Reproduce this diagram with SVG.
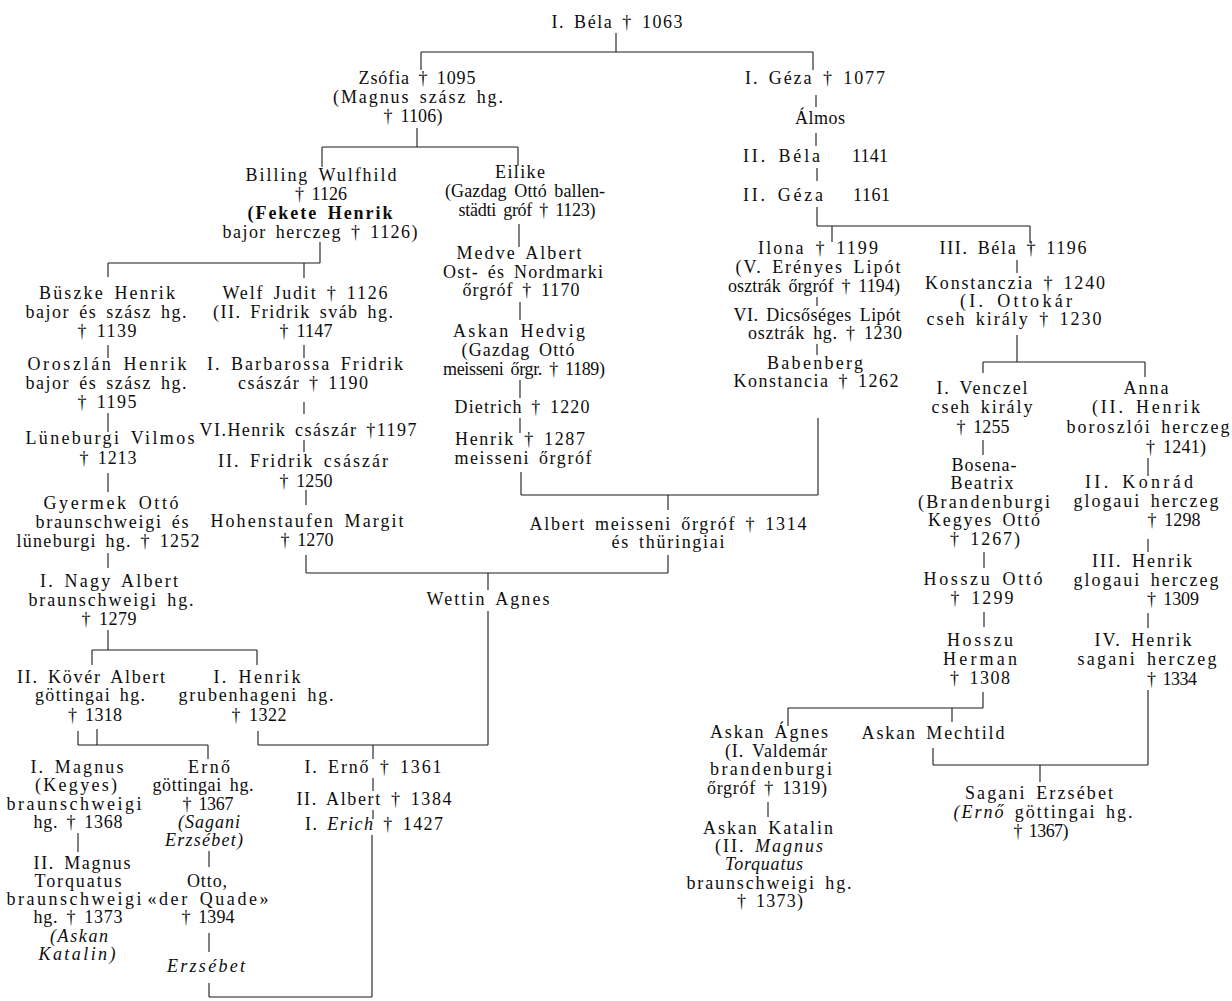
<svg xmlns="http://www.w3.org/2000/svg" width="1232" height="1001" viewBox="0 0 1232 1001">
  <style>
    text { font-family: "Liberation Serif", "Times New Roman", serif; font-size: 18px; fill: #0d0d0d; text-anchor: middle; word-spacing: 3px; }
    .b { font-weight: bold; }
    .i { font-style: italic; }
    .st { text-anchor: start; }
    #connectors path { fill: none; stroke: #1a1a1a; stroke-width: 1.1; }
  </style>
  <rect width="1232" height="1001" fill="#fff"/>

  <!-- descent lines -->
  <g id="connectors">
    <path d="M616 33V52M421 52H813M421 52V70M813 52V70"/>
    <path d="M417 128V147M322 147H518M322 147V167M518 147V166"/>
    <path d="M519 224V247M520 302V320M520 380V398M520 418V433M521 472V495M521 495H818M818 418V495"/>
    <path d="M668 495V510M668 555V573M306 573H668M306 555V573M488 573V590M488 611V745"/>
    <path d="M258 745H488M258 731V745M373 745V759"/>
    <path d="M78 731V745M97 729V745M78 745H208M208 745V759"/>
    <path d="M373 778V791M373 810V819M372 835V997M209 997H372M209 983V997M209 933V952M209 851V867M78 833V852"/>
    <path d="M320 242V263M108 263H320M108 263V277M304 263V278"/>
    <path d="M108 345V358M108 413V432M108 473V492M108 553V568M108 630V650M92 650H257M92 650V665M257 650V665"/>
    <path d="M304 345V358M304 402V414M304 440V452M306 490V505"/>
    <path d="M816 95V107M816 133V146M817 168V181M817 207V226M817 226H1030M832 226V242M1030 226V243"/>
    <path d="M817 297V306M817 344V355"/>
    <path d="M1017 260V273M1017 335V362M983 362H1145M983 362V373M1145 362V377"/>
    <path d="M983 440V455M984 552V568M984 612V627M983 692V708M788 708H983M788 708V726M952 708V722"/>
    <path d="M1148 458V476M1148 539V552M1148 613V628M1148 690V765M933 765H1148M933 748V765M1040 765V782"/>
    <path d="M768 802V817"/>
  </g>

  <!-- Árpád line -->
  <g id="n-bela1"><text x="617" y="28" textLength="131">I. Béla † 1063</text></g>

  <g id="n-zsofia">
    <text x="417" y="84" textLength="117">Zsófia † 1095</text>
    <text x="418" y="103" textLength="170">(Magnus szász hg.</text>
    <text x="413" y="122" textLength="59">† 1106)</text>
  </g>

  <g id="n-billing">
    <text x="321" y="181" textLength="151">Billing Wulfhild</text>
    <text x="321" y="200" textLength="52">† 1126</text>
    <text x="320" y="219" textLength="145" class="b">(Fekete Henrik</text>
    <text x="320" y="238" textLength="195">bajor herczeg † 1126)</text>
  </g>

  <g id="n-eilike">
    <text x="520" y="178" textLength="50">Eilike</text>
    <text x="525" y="197" textLength="160">(Gazdag Ottó ballen-</text>
    <text x="527" y="216" textLength="137">städti gróf † 1123)</text>
  </g>

  <g id="n-medve">
    <text x="519" y="259" textLength="125">Medve Albert</text>
    <text x="523" y="278" textLength="160">Ost- és Nordmarki</text>
    <text x="521" y="296" textLength="117">őrgróf † 1170</text>
  </g>

  <g id="n-hedvig">
    <text x="519" y="337" textLength="132">Askan Hedvig</text>
    <text x="518" y="356" textLength="113">(Gazdag Ottó</text>
    <text x="524" y="375" textLength="162">meisseni őrgr. † 1189)</text>
  </g>

  <g id="n-dietrich"><text x="522" y="413" textLength="135">Dietrich † 1220</text></g>

  <g id="n-henrik-meissen">
    <text x="520" y="445" textLength="130">Henrik † 1287</text>
    <text x="523" y="464" textLength="137">meisseni őrgróf</text>
  </g>

  <g id="n-albert-meissen">
    <text x="668" y="530" textLength="277">Albert meisseni őrgróf † 1314</text>
    <text x="668" y="548" textLength="113">és thüringiai</text>
  </g>

  <g id="n-wettin-agnes"><text x="488" y="605" textLength="123">Wettin Agnes</text></g>

  <!-- Welf / Braunschweig line -->
  <g id="n-buszke">
    <text x="107" y="299" textLength="136">Büszke Henrik</text>
    <text x="106" y="318" textLength="161">bajor és szász hg.</text>
    <text x="107" y="337" textLength="59">† 1139</text>
  </g>
  <g id="n-oroszlan">
    <text x="107" y="370" textLength="159">Oroszlán Henrik</text>
    <text x="106" y="389" textLength="161">bajor és szász hg.</text>
    <text x="107" y="408" textLength="59">† 1195</text>
  </g>
  <g id="n-luneburg-vilmos">
    <text x="110" y="444" textLength="169">Lüneburgi Vilmos</text>
    <text x="108" y="464" textLength="57">† 1213</text>
  </g>
  <g id="n-gyermek-otto">
    <text x="111" y="509" textLength="135">Gyermek Ottó</text>
    <text x="112" y="528" textLength="153">braunschweigi és</text>
    <text x="108" y="547" textLength="183">lüneburgi hg. † 1252</text>
  </g>
  <g id="n-nagy-albert">
    <text x="109" y="587" textLength="138">I. Nagy Albert</text>
    <text x="111" y="606" textLength="165">braunschweigi hg.</text>
    <text x="109" y="625" textLength="55">† 1279</text>
  </g>
  <g id="n-kover-albert">
    <text x="91" y="683" textLength="148">II. Kövér Albert</text>
    <text x="90" y="701" textLength="110">göttingai hg.</text>
    <text x="95" y="721" textLength="54">† 1318</text>
  </g>
  <g id="n-henrik-grubenhagen">
    <text x="257" y="683" textLength="87">I. Henrik</text>
    <text x="256" y="701" textLength="155">grubenhageni hg.</text>
    <text x="259" y="721" textLength="55">† 1322</text>
  </g>
  <g id="n-magnus1">
    <text x="77" y="773" textLength="93">I. Magnus</text>
    <text x="76" y="791" textLength="82">(Kegyes)</text>
    <text x="74" y="810" textLength="135">braunschweigi</text>
    <text x="78" y="828" textLength="89">hg. † 1368</text>
  </g>
  <g id="n-magnus2">
    <text x="82" y="869" textLength="97">II. Magnus</text>
    <text x="78" y="887" textLength="87">Torquatus</text>
    <text x="74" y="905" textLength="135">braunschweigi</text>
    <text x="78" y="923" textLength="89">hg. † 1373</text>
    <text x="79" y="942" textLength="58" class="i">(Askan</text>
    <text x="77" y="960" textLength="77" class="i">Katalin)</text>
  </g>
  <g id="n-erno-gott">
    <text x="209" y="773" textLength="42">Ernő</text>
    <text x="203" y="791" textLength="101">göttingai hg.</text>
    <text x="208" y="810" textLength="51">† 1367</text>
    <text x="209" y="828" textLength="62" class="i">(Sagani</text>
    <text x="204" y="846" textLength="78" class="i">Erzsébet)</text>
  </g>
  <g id="n-otto-quade">
    <text x="207" y="887" textLength="40">Otto,</text>
    <text x="208" y="905" textLength="121">«der Quade»</text>
    <text x="208" y="923" textLength="53">† 1394</text>
  </g>
  <g id="n-erzsebet"><text x="206" y="972" textLength="78" class="i">Erzsébet</text></g>
  <g id="n-erno1"><text x="373" y="773" textLength="137">I. Ernő † 1361</text></g>
  <g id="n-albert2"><text x="374" y="805" textLength="155">II. Albert † 1384</text></g>
  <g id="n-erich1"><text x="374" y="830" textLength="138">I. <tspan class="i">Erich</tspan> † 1427</text></g>

  <!-- Hohenstaufen line -->
  <g id="n-welf-judit">
    <text x="305" y="299" textLength="165">Welf Judit † 1126</text>
    <text x="303" y="318" textLength="180">(II. Fridrik sváb hg.</text>
    <text x="306" y="337" textLength="53">† 1147</text>
  </g>
  <g id="n-barbarossa">
    <text x="305" y="370" textLength="196">I. Barbarossa Fridrik</text>
    <text x="303" y="389" textLength="130">császár † 1190</text>
  </g>
  <g id="n-henrik6"><text x="308" y="436" textLength="217">VI.Henrik császár †1197</text></g>
  <g id="n-fridrik2">
    <text x="303" y="467" textLength="170">II. Fridrik császár</text>
    <text x="306" y="487" textLength="53">† 1250</text>
  </g>
  <g id="n-margit">
    <text x="307" y="527" textLength="193">Hohenstaufen Margit</text>
    <text x="307" y="546" textLength="53">† 1270</text>
  </g>

  <!-- Géza's line -->
  <g id="n-geza1"><text x="815" y="84" textLength="140">I. Géza † 1077</text></g>
  <g id="n-almos"><text x="820" y="124" textLength="50">Álmos</text></g>
  <g id="n-bela2">
    <text x="743" y="162" textLength="77" class="st">II. Béla</text>
    <text x="852" y="162" textLength="36" class="st">1141</text>
  </g>
  <g id="n-geza2">
    <text x="743" y="201" textLength="80" class="st">II. Géza</text>
    <text x="853" y="201" textLength="37" class="st">1161</text>
  </g>
  <g id="n-ilona">
    <text x="818" y="254" textLength="120">Ilona † 1199</text>
    <text x="818" y="273" textLength="165">(V. Erényes Lipót</text>
    <text x="814" y="292" textLength="172">osztrák őrgróf † 1194)</text>
  </g>
  <g id="n-lipot6">
    <text x="817" y="321" textLength="167">VI. Dicsőséges Lipót</text>
    <text x="825" y="339" textLength="154">osztrák hg. † 1230</text>
  </g>
  <g id="n-babenberg">
    <text x="815" y="369" textLength="96">Babenberg</text>
    <text x="816" y="387" textLength="165">Konstancia † 1262</text>
  </g>
  <g id="n-bela3"><text x="1013" y="254" textLength="147">III. Béla † 1196</text></g>
  <g id="n-konstanczia">
    <text x="1015" y="289" textLength="180">Konstanczia † 1240</text>
    <text x="1016" y="307" textLength="112">(I. Ottokár</text>
    <text x="1014" y="325" textLength="175">cseh király † 1230</text>
  </g>
  <g id="n-venczel">
    <text x="982" y="394" textLength="91">I. Venczel</text>
    <text x="982" y="413" textLength="101">cseh király</text>
    <text x="983" y="433" textLength="53">† 1255</text>
  </g>
  <g id="n-bosena">
    <text x="984" y="471" textLength="65">Bosena-</text>
    <text x="982" y="489" textLength="63">Beatrix</text>
    <text x="984" y="508" textLength="132">(Brandenburgi</text>
    <text x="984" y="526" textLength="112">Kegyes Ottó</text>
    <text x="985" y="545" textLength="70">† 1267)</text>
  </g>
  <g id="n-hosszu-otto">
    <text x="983" y="585" textLength="119">Hosszu Ottó</text>
    <text x="982" y="604" textLength="63">† 1299</text>
  </g>
  <g id="n-hosszu-herman">
    <text x="980" y="646" textLength="66">Hosszu</text>
    <text x="980" y="665" textLength="74">Herman</text>
    <text x="980" y="684" textLength="60">† 1308</text>
  </g>
  <g id="n-anna">
    <text x="1146" y="394" textLength="45">Anna</text>
    <text x="1146" y="413" textLength="108">(II. Henrik</text>
    <text x="1148" y="433" textLength="163">boroszlói herczeg</text>
    <text x="1176" y="453" textLength="60">† 1241)</text>
  </g>
  <g id="n-konrad2">
    <text x="1139" y="488" textLength="108">II. Konrád</text>
    <text x="1146" y="507" textLength="145">glogaui herczeg</text>
    <text x="1174" y="526" textLength="53">† 1298</text>
  </g>
  <g id="n-henrik3">
    <text x="1142" y="567" textLength="100">III. Henrik</text>
    <text x="1146" y="586" textLength="145">glogaui herczeg</text>
    <text x="1173" y="605" textLength="52">† 1309</text>
  </g>
  <g id="n-henrik4">
    <text x="1143" y="646" textLength="97">IV. Henrik</text>
    <text x="1147" y="665" textLength="139">sagani herczeg</text>
    <text x="1172" y="685" textLength="50">† 1334</text>
  </g>
  <g id="n-askan-agnes">
    <text x="769" y="738" textLength="118">Askan Ágnes</text>
    <text x="776" y="757" textLength="102">(I. Valdemár</text>
    <text x="771" y="775" textLength="122">brandenburgi</text>
    <text x="767" y="794" textLength="120">őrgróf † 1319)</text>
  </g>
  <g id="n-askan-katalin">
    <text x="768" y="834" textLength="130">Askan Katalin</text>
    <text x="769" y="852" textLength="108">(II. <tspan class="i">Magnus</tspan></text>
    <text x="764" y="870" textLength="78" class="i">Torquatus</text>
    <text x="769" y="889" textLength="165">braunschweigi hg.</text>
    <text x="770" y="907" textLength="66">† 1373)</text>
  </g>
  <g id="n-askan-mechtild"><text x="933" y="739" textLength="143">Askan Mechtild</text></g>
  <g id="n-sagani">
    <text x="1039" y="799" textLength="148">Sagani Erzsébet</text>
    <text x="1043" y="818" textLength="179"><tspan class="i">(Ernő</tspan> göttingai hg.</text>
    <text x="1041" y="837" textLength="55">† 1367)</text>
  </g>
</svg>
